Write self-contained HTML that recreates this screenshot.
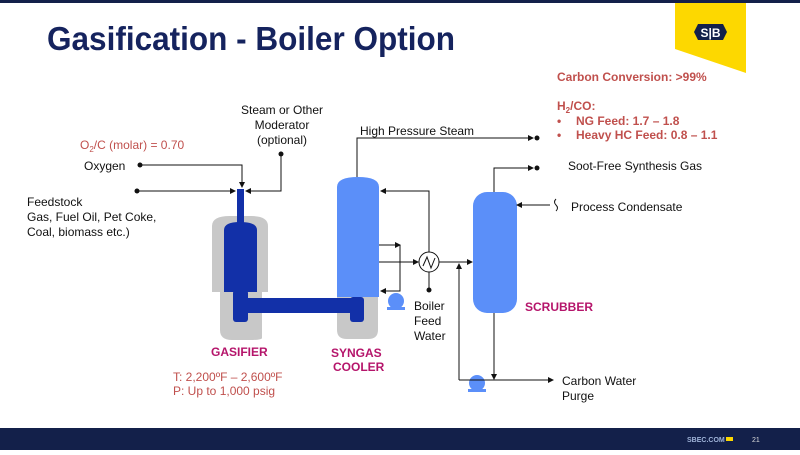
<!DOCTYPE html>
<html><head><meta charset="utf-8"><style>
body{margin:0;width:800px;height:450px;overflow:hidden;background:#fff;font-family:"Liberation Sans",Arial,sans-serif;}
</style></head><body>
<svg width="800" height="450" viewBox="0 0 800 450" xmlns="http://www.w3.org/2000/svg" font-family="Liberation Sans, Arial, sans-serif">
<defs>
<marker id="a" markerWidth="6" markerHeight="6" refX="5" refY="3" orient="auto" markerUnits="userSpaceOnUse"><path d="M0,0 L6,3 L0,6z" fill="#111"/></marker>
</defs>
<rect x="0" y="0" width="800" height="3" fill="#13204a"/>
<polygon points="675,3 746,3 746,73 675,49" fill="#fdd800"/>
<polygon points="698,24 723,24 727,32 723,40 698,40 694,32" fill="#13204a"/>
<text x="710.5" y="37" font-size="12" font-weight="bold" fill="#fff" text-anchor="middle">S|B</text>
<text x="47" y="50" font-size="33" font-weight="bold" fill="#15235e" textLength="408" lengthAdjust="spacingAndGlyphs">Gasification - Boiler Option</text>

<g fill="#c0504d" font-size="12" font-weight="bold">
<text x="557" y="81">Carbon Conversion: &gt;99%</text>
<text x="557" y="110">H<tspan font-size="8" dy="3">2</tspan><tspan dy="-3">/CO:</tspan></text>
<text x="557" y="125">•</text><text x="576" y="125">NG Feed: 1.7 – 1.8</text>
<text x="557" y="139">•</text><text x="576" y="139">Heavy HC Feed: 0.8 – 1.1</text>
</g>
<text x="80" y="149" font-size="12" fill="#c0504d">O<tspan font-size="8" dy="3">2</tspan><tspan dy="-3">/C (molar) = 0.70</tspan></text>

<g font-size="12" fill="#111">
<text x="84" y="170">Oxygen</text>
<text x="27" y="206">Feedstock</text>
<text x="27" y="221">Gas, Fuel Oil, Pet Coke,</text>
<text x="27" y="236">Coal, biomass etc.)</text>
<text x="282" y="114" text-anchor="middle">Steam or Other</text>
<text x="282" y="129" text-anchor="middle">Moderator</text>
<text x="282" y="144" text-anchor="middle">(optional)</text>
<text x="360" y="135">High Pressure Steam</text>
<text x="568" y="170">Soot-Free Synthesis Gas</text>
<text x="571" y="211">Process Condensate</text>
<text x="414" y="310">Boiler</text>
<text x="414" y="325">Feed</text>
<text x="414" y="340">Water</text>
<text x="562" y="385">Carbon Water</text>
<text x="562" y="400">Purge</text>
</g>
<g font-size="12" font-weight="bold" fill="#b5156b">
<text x="211" y="356">GASIFIER</text>
<text x="331" y="357">SYNGAS</text>
<text x="333" y="371">COOLER</text>
<text x="525" y="311">SCRUBBER</text>
</g>
<g font-size="12" fill="#c0504d">
<text x="173" y="381">T: 2,200ºF – 2,600ºF</text>
<text x="173" y="395">P: Up to 1,000 psig</text>
</g>

<path d="M212,226 Q212,216 230,216 L251,216 Q268,216 268,226 L268,292 L212,292 Z" fill="#c8c8c8"/>
<path d="M220,292 L262,292 L262,338 Q262,340 250,340 L232,340 Q220,340 220,330 Z" fill="#c8c8c8"/>
<path d="M337,297 L378,297 L378,330 Q378,339 368,339 L347,339 Q337,339 337,330 Z" fill="#c8c8c8"/>
<rect x="237" y="189" width="7" height="35" fill="#1230a8"/>
<path d="M224,230 Q224,222 240,222 Q257,222 257,230 L257,292 L224,292 Z" fill="#1230a8"/>
<rect x="233" y="290" width="15" height="32" rx="3" fill="#1230a8"/>
<rect x="244" y="298" width="115" height="15" fill="#1230a8"/>
<rect x="350" y="297" width="14" height="25" rx="3" fill="#1230a8"/>
<path d="M337,187 Q337,177 358,177 Q379,177 379,187 L379,297 L337,297 Z" fill="#5b8ff9"/>
<rect x="473" y="192" width="44" height="121" rx="14" fill="#5b8ff9"/>
<circle cx="396" cy="301" r="8" fill="#5b8ff9"/><rect x="387" y="307" width="18" height="3" fill="#5b8ff9"/>
<circle cx="477" cy="383" r="8" fill="#5b8ff9"/><rect x="468" y="389" width="18" height="3" fill="#5b8ff9"/>
<circle cx="429" cy="262" r="10" fill="#fff" stroke="#111" stroke-width="1"/>
<path d="M423,266 L427,257 L431,268 L435,258" fill="none" stroke="#111" stroke-width="1"/>

<g stroke="#111" stroke-width="1" fill="none">
<polyline points="140,165 242,165 242,187" marker-end="url(#a)"/>
<line x1="137" y1="191" x2="235" y2="191" marker-end="url(#a)"/>
<polyline points="281,154 281,191 246,191" marker-end="url(#a)"/>
<polyline points="357,177 357,138 533,138" marker-end="url(#a)"/>
<polyline points="494,192 494,168 533,168" marker-end="url(#a)"/>
<line x1="550" y1="205" x2="517" y2="205" marker-end="url(#a)"/>
<path d="M556,199 q-3,3 0,6 q3,3 0,6"/>
<polyline points="429,252 429,191 381,191" marker-end="url(#a)"/>
<line x1="429" y1="272" x2="429" y2="290"/>
<polyline points="379,245 400,245" marker-end="url(#a)"/>
<polyline points="400,245 400,291 381,291" marker-end="url(#a)"/>
<line x1="379" y1="262" x2="418" y2="262" marker-end="url(#a)"/>
<line x1="439" y1="262" x2="472" y2="262" marker-end="url(#a)"/>
<line x1="459" y1="380" x2="459" y2="264" marker-end="url(#a)"/>
<line x1="459" y1="380" x2="553" y2="380" marker-end="url(#a)"/>
<line x1="494" y1="313" x2="494" y2="379" marker-end="url(#a)"/>
</g>
<g fill="#111">
<circle cx="140" cy="165" r="2.5"/><circle cx="137" cy="191" r="2.5"/><circle cx="281" cy="154" r="2.5"/>
<circle cx="537" cy="138" r="2.5"/><circle cx="537" cy="168" r="2.5"/><circle cx="429" cy="290" r="2.5"/>
</g>

<rect x="0" y="428" width="800" height="22" fill="#13204a"/>
<text x="687" y="442" font-size="7" fill="#9fb3d8" font-weight="bold">SBEC.COM</text>
<rect x="726" y="437" width="7" height="4" fill="#fdd800"/>
<text x="752" y="442" font-size="7" fill="#ddd">21</text>
</svg>
</body></html>
